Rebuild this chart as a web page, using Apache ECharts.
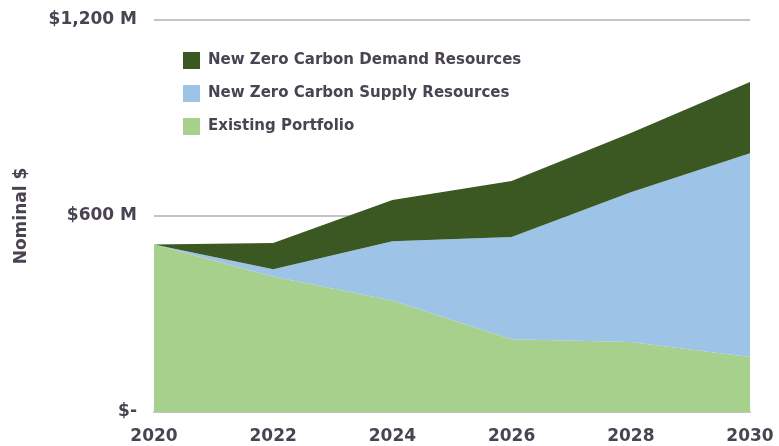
<!DOCTYPE html>
<html><head><meta charset="utf-8">
<script src="https://cdn.jsdelivr.net/npm/echarts@6/dist/echarts.min.js"></script>
<style>html,body{margin:0;padding:0;background:#fff}#c{width:779px;height:446px}</style>
</head><body><div id="c"></div>
<script>
const years = ['2020','2022','2024','2026','2028','2030'];
const existingPortfolio = [513, 415, 341, 223, 214, 168];
const supplyResources = [0, 22, 182, 313, 459, 624];
const demandResources = [0, 80, 126, 171, 181, 218];
const yTicks = {0: '$-', 600: '$600 M', 1200: '$1,200 M'};
const txt = '#4a4452';
const font = 'DejaVu Sans';
const chart = echarts.init(document.getElementById('c'));
chart.setOption({
  animation: false,
  grid: {left: 154, right: 29, top: 20, bottom: 34},
  legend: {
    data: ['New Zero Carbon Demand Resources','New Zero Carbon Supply Resources','Existing Portfolio'],
    orient: 'vertical', left: 178, top: 47, itemWidth: 17, itemHeight: 17, itemGap: 16,
    icon: 'rect',
    textStyle: {color: txt, fontFamily: font, fontSize: 15, fontWeight: 'bold', padding: [0,0,0,3]}
  },
  xAxis: {
    type: 'category', data: years, boundaryGap: false,
    axisLine: {lineStyle: {color: '#c4c4c8', width: 2}},
    axisTick: {show: false},
    axisLabel: {color: txt, fontFamily: font, fontSize: 17, fontWeight: 'bold', margin: 16}
  },
  yAxis: {
    type: 'value', min: 0, max: 1200, interval: 600,
    name: 'Nominal $', nameLocation: 'middle', nameGap: 124, nameRotate: 90,
    nameTextStyle: {color: txt, fontFamily: font, fontSize: 17, fontWeight: 'bold'},
    axisLabel: {color: txt, fontFamily: font, fontSize: 17, fontWeight: 'bold', margin: 17,
      formatter: v => yTicks[v]},
    splitLine: {lineStyle: {color: '#c4c4c8', width: 2}},
    axisLine: {show: false}, axisTick: {show: false}
  },
  series: [
    {name: 'Existing Portfolio', type: 'line', stack: 't', data: existingPortfolio,
     symbol: 'none', lineStyle: {width: 0}, areaStyle: {color: '#a8d08d', opacity: 1}, itemStyle: {color: '#a8d08d'}},
    {name: 'New Zero Carbon Supply Resources', type: 'line', stack: 't', data: supplyResources,
     symbol: 'none', lineStyle: {width: 0}, areaStyle: {color: '#9dc3e6', opacity: 1}, itemStyle: {color: '#9dc3e6'}},
    {name: 'New Zero Carbon Demand Resources', type: 'line', stack: 't', data: demandResources,
     symbol: 'none', lineStyle: {width: 0}, areaStyle: {color: '#3b5823', opacity: 1}, itemStyle: {color: '#3b5823'}}
  ]
});
</script></body></html>
